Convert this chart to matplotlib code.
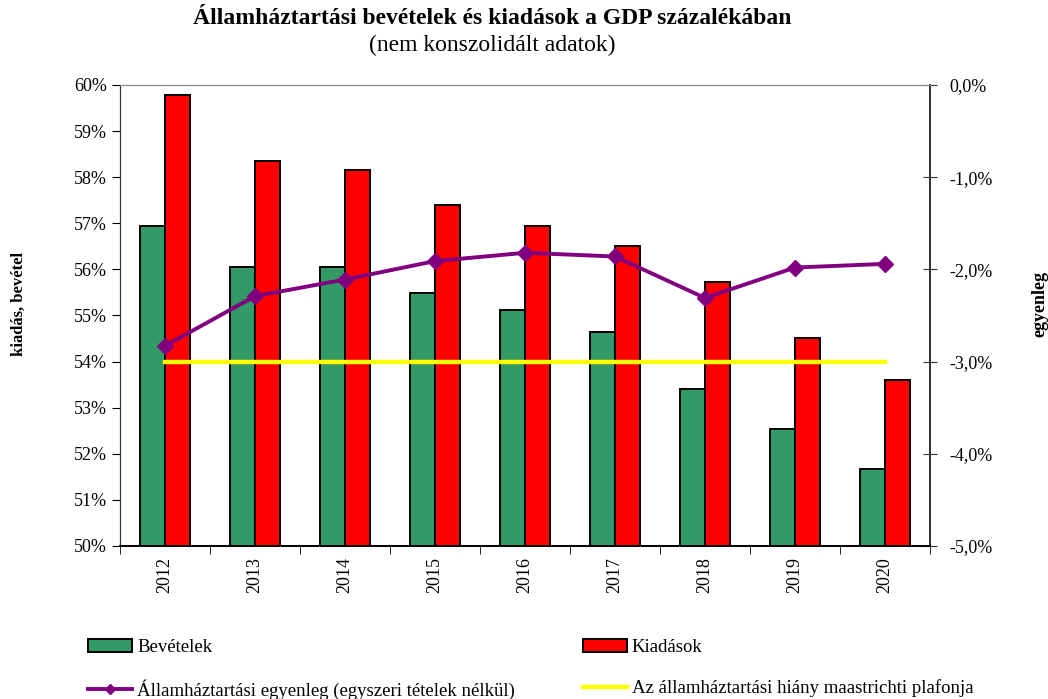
import matplotlib
matplotlib.use('Agg')
import matplotlib.pyplot as plt
from matplotlib.ticker import FuncFormatter, MultipleLocator, FixedLocator

plt.rcParams['font.family'] = ['Liberation Serif', 'DejaVu Serif']

years = ['2012', '2013', '2014', '2015', '2016', '2017', '2018', '2019', '2020']
bevetelek = [56.95, 56.06, 56.05, 55.49, 55.12, 54.65, 53.41, 52.53, 51.66]
kiadasok = [59.78, 58.36, 58.16, 57.40, 56.94, 56.51, 55.72, 54.51, 53.60]
egyenleg = [-2.83, -2.29, -2.11, -1.91, -1.82, -1.86, -2.31, -1.98, -1.94]
maastricht = [-3.0] * len(years)

fig = plt.figure(figsize=(10.48, 6.99), dpi=100)
ax = fig.add_axes([0.1145, 0.2189, 0.7729, 0.6595])
ax2 = ax.twinx()

x = list(range(len(years)))
w = 0.283
ax.bar([i - w / 2 for i in x], [v - 50 for v in bevetelek], w, bottom=50,
       color='#339966', edgecolor='black', linewidth=1.4, label='Bevételek')
ax.bar([i + w / 2 for i in x], [v - 50 for v in kiadasok], w, bottom=50,
       color='#FF0000', edgecolor='black', linewidth=1.4, label='Kiadások')

ax2.plot(x, maastricht, color='#FFFF00', linewidth=3.2,
         label='Az államháztartási hiány maastrichti plafonja', zorder=3)
ax2.plot(x, egyenleg, color='#800080', linewidth=2.8, marker='D', markersize=8,
         label='Államháztartási egyenleg (egyszeri tételek nélkül)', zorder=4)

ax.set_xlim(-0.5, len(years) - 0.5)
ax.set_ylim(50, 60)
ax2.set_ylim(-5, 0)

ax.yaxis.set_major_locator(MultipleLocator(1))
ax.yaxis.set_major_formatter(FuncFormatter(lambda v, p: f'{v:.0f}%'))
ax2.yaxis.set_major_locator(MultipleLocator(1))
ax2.yaxis.set_major_formatter(FuncFormatter(lambda v, p: f'{v:.1f}%'.replace('.', ',')))

ax.set_xticks(x)
ax.set_xticklabels(years, rotation=90, fontsize=13)
ax.tick_params(axis='x', length=0, pad=8)
ax.xaxis.set_minor_locator(FixedLocator([i + 0.5 for i in range(-1, len(years))]))
ax.tick_params(axis='x', which='minor', length=6, direction='out', color='black')
ax.tick_params(axis='y', labelsize=13, length=6, direction='out', color='black')
ax2.tick_params(axis='y', labelsize=13, length=10, direction='inout', color='#333333', pad=9)

for a in (ax, ax2):
    a.spines['top'].set_color('#888888')
    a.spines['left'].set_color('#333333')
    a.spines['right'].set_color('#333333')
    a.spines['bottom'].set_color('black')
    a.spines['right'].set_linewidth(1.3)
    a.spines['bottom'].set_linewidth(1.2)

# axis titles placed directly
fig.text(19 / 1048, 1 - 304 / 699, 'kiadás, bevétel', rotation=90, ha='center', va='center',
         fontsize=12, fontweight='bold')
fig.text(1040 / 1048, 1 - 304 / 699, 'egyenleg', rotation=90, ha='center', va='center',
         fontsize=13, fontweight='bold')

fig.text(0.47, 1 - 18 / 699, 'Államháztartási bevételek és kiadások a GDP százalékában',
         ha='center', va='center', fontsize=17, fontweight='bold')
fig.text(0.47, 1 - 45 / 699, '(nem konszolidált adatok)', ha='center', va='center', fontsize=17)

h1, l1 = ax.get_legend_handles_labels()
h2, l2 = ax2.get_legend_handles_labels()
handles = [h1[0], h2[1], h1[1], h2[0]]
labels = [l1[0], l2[1], l1[1], l2[0]]
fig.legend(handles, labels, loc='lower left', bbox_to_anchor=(0.077, -0.012), ncol=2,
           frameon=False, fontsize=13.5, handlelength=2.35, handletextpad=0.27,
           columnspacing=3.6, labelspacing=1.26, borderaxespad=0, markerscale=0.7)

fig.savefig('out.png', dpi=100)
